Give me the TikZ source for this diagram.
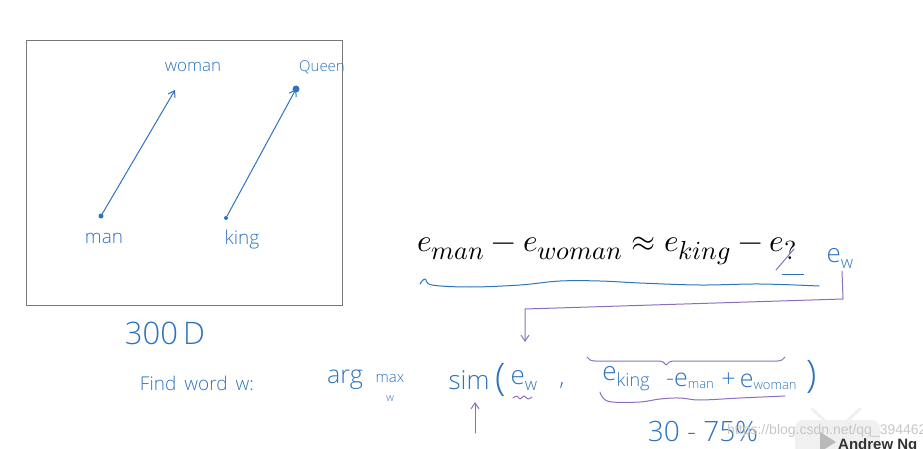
\documentclass[tikz,border=0pt]{standalone}
\usepackage{graphicx}
\usepackage{fontspec}
\usepackage{unicode-math}
\setmathfont{Latin Modern Math}
\newfontfamily\hand{Open Sans Light}[Scale=1]
\newfontfamily\wmfont{Liberation Sans}
\usetikzlibrary{arrows.meta,decorations.pathreplacing}
\definecolor{pen}{RGB}{45,115,190}
\definecolor{purp}{RGB}{140,110,190}
\definecolor{boxgray}{RGB}{120,120,120}
\begin{document}
\begin{tikzpicture}[x=1pt,y=-1pt,
  hw/.style={text=pen,inner sep=0pt,font=\hand\fontsize{#1}{#1}\selectfont},
  hw/.default=14,
  dot/.style={circle,fill=pen,inner sep=0pt,minimum size=#1},
  dot/.default=5pt,
  penline/.style={draw=pen,line width=1pt,line cap=round,line join=round},
  purpline/.style={draw=purp,line width=1pt,line cap=round,line join=round},
  tip/.style={-{Straight Barb[length=6pt,width=8pt]}}]
\useasboundingbox (0,0) rectangle (923,449);
\begin{scope}
\clip (0,0) rectangle (923,449);
% frame
\node[draw=boxgray,line width=1.3pt,minimum width=316pt,minimum height=265pt,anchor=north west,inner sep=0pt] (box) at (26,40) {};
% points
\node[dot] (man) at (101,216) {};
\coordinate (woman) at (175,90);
\node[dot=4pt] (king) at (226,218) {};
\node[dot=7pt] (queen) at (296,89) {};
\node[hw=19] (manl) at (104,238) {man};
\node[hw=17] (womanl) at (193,67) {woman};
\node[hw=15] (queenl) at (322,67) {Queen};
\node[hw=19] (kingl) at (242,240) {king};
\draw[penline,tip] (man) -- (woman);
\draw[penline,tip] (king) -- (queen.center);
% equation
\node[anchor=west,inner sep=0pt] (eq) at (417,251) {\scalebox{1.26}{\fontsize{24.88}{30}\selectfont $e_{man}-e_{woman}\approx e_{king}-e_{?}$}};
\draw[purpline] (776,270) -- (794,249);
\draw[draw=pen,line width=1pt] (782,274) -- (804,274);
\node[hw=26] (ew) at (840,258) {e\raisebox{-6pt}{\fontsize{17}{17}\selectfont w}};
% wavy underline
\draw[penline] plot[smooth,tension=0.6] coordinates {(420,284) (425,279) (432,285) (470,287) (520,285) (560,281) (600,281) (640,283) (700,285) (760,284) (819,286)};
% purple connector
\coordinate (c1) at (843,299);
\coordinate (c2) at (525,309);
\node[hw=26] (eww) at (524,380) {e\raisebox{-6pt}{\fontsize{17}{17}\selectfont w}};
\draw[purpline,tip] (ew.south) ++(2,3) -- (c1) -- (c2) -- (525,342);
% 300D
\node[hw=31] (d300) at (165,333) {300\,D};
% bottom formula
\node[hw=19] (find) at (197,383) {Find\, word\, w:};
\node[hw=25] (arg) at (345,380) {arg};
\node[hw=15] (max) at (390,379) {max};
\node[hw=11] (wsub) at (390,399) {w};
\node[hw=26] (sim) at (469,380) {sim};
\node[text=pen,inner sep=0pt,font=\hand\fontsize{38}{38}\selectfont] (lp) at (501,380) {(};
\draw[purpline] plot[smooth,tension=0.6] coordinates {(513,398) (517,396) (520,399) (524,396) (528,399) (532,397)};
\node[hw=24] (comma) at (562,386) {,};
\node[hw=26] (eking) at (626,379) {e\raisebox{-6pt}{\fontsize{18}{18}\selectfont king}};
\node[hw=25] (eman) at (690,381) {-e\raisebox{-2pt}{\fontsize{13}{13}\selectfont man}};
\node[hw=25] (ewoman) at (759,381) {+\,e\raisebox{-2pt}{\fontsize{13}{13}\selectfont woman}};
\node[text=pen,inner sep=0pt,font=\hand\fontsize{38}{38}\selectfont] (rp) at (812,377) {)};
% over brace
\draw[purpline,decorate,decoration={brace,amplitude=8pt,aspect=0.4,mirror}] (587,357) -- (785,357);
% under squiggle
\draw[purpline] plot[smooth,tension=0.6] coordinates {(600,392) (603,398) (612,402) (640,402) (660,399) (680,398) (700,400) (740,398) (785,396)};
% up arrow
\coordinate (upbase) at (475,433);
\draw[purpline,tip] (upbase) -- (475,402);
% percentage
\node[hw=28] (pct) at (703,432) {30 - 75\%};
% watermark
\draw[gray!12,line width=3pt,line cap=round] (812,409) -- (826,422) (860,409) -- (846,422);
\fill[gray!12,rounded corners=8pt] (795,420) rectangle (880,470);
\fill[gray!55] (820,432) -- (820,452) -- (836,442) -- cycle;
\node[anchor=west,inner sep=0pt,text=gray!45,font=\wmfont\fontsize{14}{14}\selectfont] (wm) at (727,431) {https://blog.csdn.net/qq\_39446239};
\node[anchor=west,inner sep=0pt,text=black!80,font=\wmfont\bfseries\fontsize{15}{15}\selectfont] (ng) at (838,446) {Andrew Ng};
\end{scope}
\end{tikzpicture}
\end{document}
